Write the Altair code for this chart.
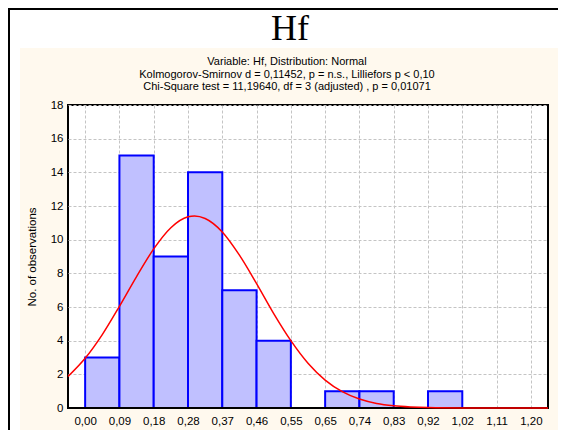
import json
import altair as alt
import pandas as pd

# ---- data ----
bin_labels = ["0,00", "0,09", "0,18", "0,28", "0,37", "0,46", "0,55",
              "0,65", "0,74", "0,83", "0,92", "1,02", "1,11", "1,20"]
counts = [3, 15, 9, 14, 7, 4, 0, 1, 1, 0, 1, 0, 0]

# fitted normal curve (x in bin-index units, y in observations)
curve_x = [-0.5, 0.0, 0.5, 1.0, 1.5, 2.0, 2.5, 3.0, 3.19, 3.5, 4.0, 4.5, 5.0,
           5.5, 6.0, 6.5, 7.0, 7.5, 8.0, 8.5, 9.0, 9.5, 10.0, 11.0, 12.0, 13.5]
curve_y = [1.87, 2.95, 4.36, 6.04, 7.81, 9.45, 10.71, 11.36, 11.41, 11.26, 10.46,
           9.08, 7.39, 5.61, 4.00, 2.66, 1.66, 0.97, 0.53, 0.27, 0.13, 0.06,
           0.024, 0.003, 0.0, 0.0]

title_text = "Hf"
sub_lines = ["Variable: Hf, Distribution: Normal",
             "Kolmogorov-Smirnov d = 0,11452, p = n.s., Lilliefors p < 0,10",
             "Chi-Square test = 11,19640, df = 3 (adjusted) , p = 0,01071"]
y_title = "No. of observations"

# ---- tables ----
bars = pd.DataFrame({
    "start": list(range(len(counts))),
    "end": [i + 1 for i in range(len(counts))],
    "count": counts,
})
bars = bars[bars["count"] > 0]
curve = pd.DataFrame({"x": curve_x, "y": curve_y})
one = pd.DataFrame({"a": [0]})

W, H = 480, 303
FONT = "Liberation Sans"
CREAM = "#fff9ee"

xscale = alt.Scale(domain=[-0.5, 13.5], nice=False, zero=False)
yscale = alt.Scale(domain=[0, 18], nice=False)

label_expr = json.dumps(bin_labels) + "[datum.value]"

xaxis = alt.Axis(values=list(range(len(bin_labels))), labelExpr=label_expr,
                 title=None, tickSize=0, labelPadding=7, domain=False,
                 grid=True, gridColor="#c4c4c4", gridDash=[3, 2], gridWidth=1,
                 labelFont=FONT, labelFontSize=11.5, labelColor="black")
yaxis = alt.Axis(values=list(range(0, 19, 2)), title=y_title,
                 tickSize=0, labelPadding=5, domain=False,
                 grid=True, gridColor="#c4c4c4", gridDash=[3, 2], gridWidth=1,
                 labelFont=FONT, labelFontSize=11.5, labelColor="black",
                 titleFont=FONT, titleFontSize=11.5, titleFontWeight="normal",
                 titleColor="black", titleAngle=-90, titleX=-36, titleY=H / 2,
                 titleAlign="center", titleBaseline="middle")


def box(x0, x1, y0, y1, color):
    return alt.Chart(one).mark_rect(color=color, strokeWidth=0).encode(
        x=alt.value(x0), x2=alt.value(x1), y=alt.value(y0), y2=alt.value(y1))


# white strips outside the cream panel, and the black outer frame
strips = [
    box(-60, 490, -97, -57, "white"),
    box(-60, -48, -97, 325, "white"),
    box(-60, 490, -97, -95, "black"),
    box(-60, -58, -97, 325, "black"),
]

title = alt.Chart(one).mark_text(
    text=title_text, font="Liberation Serif", fontSize=36, align="center",
    baseline="alphabetic", color="black").encode(
    x=alt.value(222), y=alt.value(-65))

sub_y = [-40, -27, -15]
subs = [alt.Chart(one).mark_text(
    text=t, font=FONT, fontSize=11, align="center", baseline="alphabetic",
    color="black").encode(x=alt.value(219), y=alt.value(yy))
    for t, yy in zip(sub_lines, sub_y)]

bar_layer = alt.Chart(bars).mark_rect(
    fill="#c0c0ff", stroke="#0000ff", strokeWidth=2).encode(
    x=alt.X("start:Q", scale=xscale, axis=xaxis),
    x2="end:Q",
    y=alt.Y("count:Q", scale=yscale, axis=yaxis),
    y2=alt.datum(0),
)

base_rule = alt.Chart(one).mark_rule(color="black", strokeWidth=2).encode(
    x=alt.value(0), x2=alt.value(W), y=alt.value(H))

curve_layer = alt.Chart(curve).mark_line(
    color="#ff0000", strokeWidth=1.5, interpolate="monotone").encode(
    x=alt.X("x:Q", scale=xscale, axis=xaxis),
    y=alt.Y("y:Q", scale=yscale, axis=yaxis),
)

chart = alt.layer(*strips, title, *subs, bar_layer, base_rule, curve_layer).properties(
    width=W, height=H,
    autosize=alt.AutoSizeParams(type="none"),
    padding={"left": 60, "top": 97, "right": 10, "bottom": 22},
).configure(background=CREAM).configure_view(
    fill="white", stroke="black", strokeWidth=2)

chart.save("out.html", embed_options={"renderer": "svg", "actions": False})
